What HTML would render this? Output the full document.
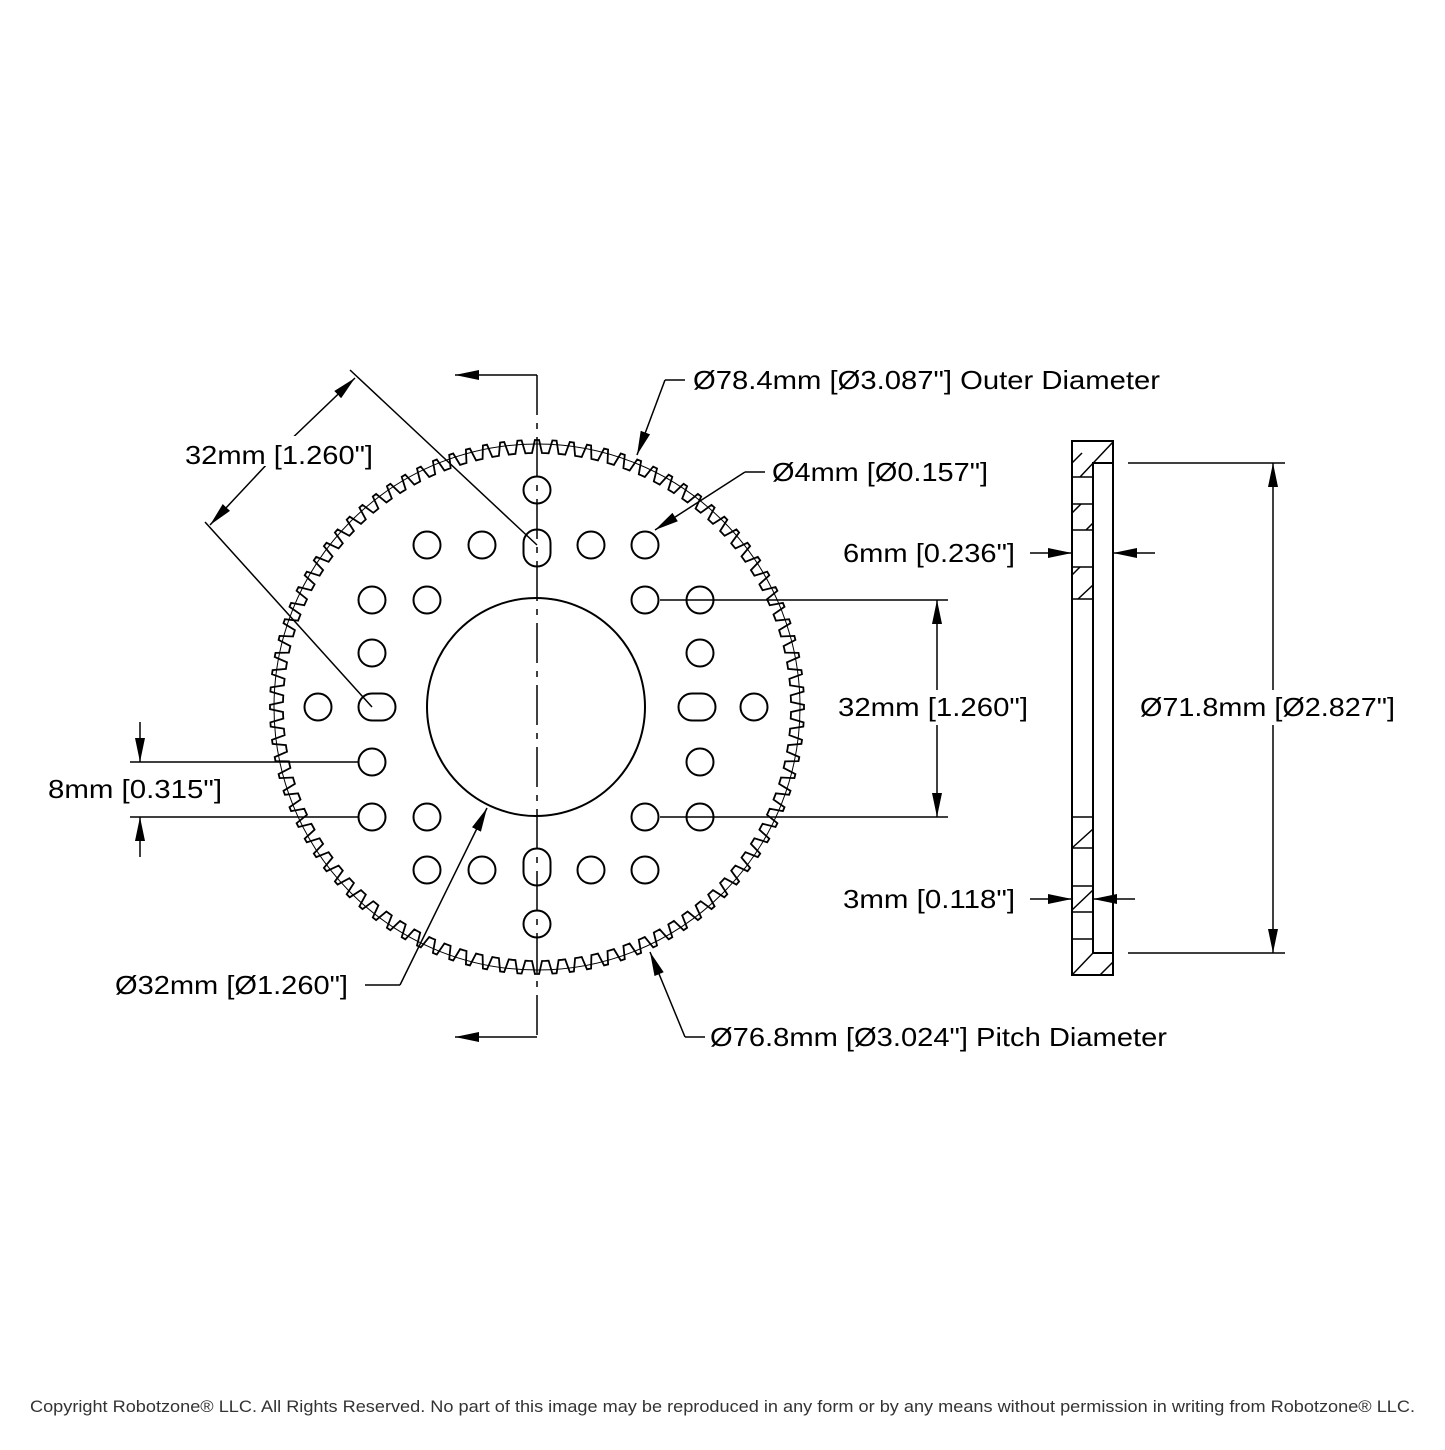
<!DOCTYPE html>
<html><head><meta charset="utf-8"><style>
body{margin:0;background:#fff}
svg text{font-family:"Liberation Sans",sans-serif;font-size:26px;fill:#000}
</style></head><body>
<svg id="s" width="1445" height="1445" viewBox="0 0 1445 1445" xmlns="http://www.w3.org/2000/svg">
<defs>
<marker id="a" viewBox="0 0 24 10" refX="24" refY="5" markerWidth="24" markerHeight="10" markerUnits="userSpaceOnUse" orient="auto"><path d="M0,0 L24,5 L0,10 Z" fill="#000"/></marker>
</defs>
<g fill="none" stroke="#000" stroke-width="2">
<path id="gear" stroke-width="1.8"/>
<circle cx="537" cy="707" r="263" stroke-width="1"/>
<circle cx="536" cy="707" r="109"/>
<g id="holes"></g>
<line x1="537" y1="375" x2="537" y2="1037" stroke-dasharray="40,8,6,8" stroke-width="1.5"/>
<line x1="537" y1="375" x2="455" y2="375" marker-end="url(#a)" stroke-width="1.5"/>
<line x1="537" y1="1037" x2="455" y2="1037" marker-end="url(#a)" stroke-width="1.5"/>
</g>
<g fill="none" stroke="#000" stroke-width="1.5">
<line x1="372" y1="707" x2="205" y2="522"/>
<line x1="537" y1="545" x2="350" y2="370"/>
<line x1="283" y1="447" x2="355" y2="378" marker-end="url(#a)"/>
<line x1="283" y1="447" x2="210" y2="525" marker-end="url(#a)"/>
<line x1="685" y1="380" x2="665" y2="380"/>
<line x1="665" y1="380" x2="637" y2="455" marker-end="url(#a)"/>
<line x1="765" y1="472" x2="745" y2="472"/>
<line x1="745" y1="472" x2="655" y2="530" marker-end="url(#a)"/>
<line x1="660" y1="600" x2="948" y2="600"/>
<line x1="660" y1="817" x2="948" y2="817"/>
<line x1="937" y1="690" x2="937" y2="600" marker-end="url(#a)"/>
<line x1="937" y1="725" x2="937" y2="817" marker-end="url(#a)"/>
<line x1="130" y1="762" x2="358" y2="762"/>
<line x1="130" y1="817" x2="358" y2="817"/>
<line x1="140" y1="722" x2="140" y2="762" marker-end="url(#a)"/>
<line x1="140" y1="857" x2="140" y2="817" marker-end="url(#a)"/>
<line x1="365" y1="985" x2="400" y2="985"/>
<line x1="400" y1="985" x2="487" y2="808" marker-end="url(#a)"/>
<line x1="705" y1="1037" x2="685" y2="1037"/>
<line x1="685" y1="1037" x2="650" y2="952" marker-end="url(#a)"/>
<line x1="1030" y1="553" x2="1072" y2="553" marker-end="url(#a)"/>
<line x1="1155" y1="553" x2="1113" y2="553" marker-end="url(#a)"/>
<line x1="1030" y1="899" x2="1072" y2="899" marker-end="url(#a)"/>
<line x1="1135" y1="899" x2="1093" y2="899" marker-end="url(#a)"/>
<line x1="1128" y1="463" x2="1285" y2="463"/>
<line x1="1128" y1="953" x2="1285" y2="953"/>
<line x1="1273" y1="690" x2="1273" y2="463" marker-end="url(#a)"/>
<line x1="1273" y1="725" x2="1273" y2="953" marker-end="url(#a)"/>
</g>
<g fill="none" stroke="#000" stroke-width="2">
<rect x="1072" y="441" width="41" height="534"/>
<polyline points="1113,463 1093,463 1093,953 1113,953"/>
<g stroke-width="1.5">
<line x1="1072" y1="477" x2="1093" y2="477"/><line x1="1072" y1="504" x2="1093" y2="504"/>
<line x1="1072" y1="530" x2="1093" y2="530"/><line x1="1072" y1="567" x2="1093" y2="567"/>
<line x1="1072" y1="599" x2="1093" y2="599"/>
<line x1="1072" y1="817" x2="1093" y2="817"/><line x1="1072" y1="848" x2="1093" y2="848"/>
<line x1="1072" y1="886" x2="1093" y2="886"/><line x1="1072" y1="912" x2="1093" y2="912"/>
<line x1="1072" y1="939" x2="1093" y2="939"/>
<line x1="1072" y1="463" x2="1082" y2="453"/><line x1="1080" y1="477" x2="1113" y2="442"/>
<line x1="1072" y1="513" x2="1081" y2="504"/><line x1="1086" y1="530" x2="1093" y2="523"/>
<line x1="1072" y1="575" x2="1080" y2="567"/><line x1="1078" y1="599" x2="1093" y2="585"/>
<line x1="1072" y1="848" x2="1093" y2="829"/><line x1="1072" y1="910" x2="1093" y2="890"/>
<line x1="1072" y1="975" x2="1093" y2="953"/><line x1="1100" y1="975" x2="1113" y2="962"/>
</g>
</g>
<rect x="180" y="436" width="198" height="30" fill="#fff"/>
<rect x="830" y="692" width="205" height="30" fill="#fff"/>
<rect x="1135" y="692" width="265" height="30" fill="#fff"/>
<g lengthAdjust="spacingAndGlyphs">
<text x="185" y="464" textLength="188" lengthAdjust="spacingAndGlyphs">32mm [1.260"]</text>
<text x="693" y="389" textLength="467" lengthAdjust="spacingAndGlyphs">Ø78.4mm [Ø3.087"] Outer Diameter</text>
<text x="772" y="481" textLength="216" lengthAdjust="spacingAndGlyphs">Ø4mm [Ø0.157"]</text>
<text x="843" y="562" textLength="172" lengthAdjust="spacingAndGlyphs">6mm [0.236"]</text>
<text x="838" y="716" textLength="190" lengthAdjust="spacingAndGlyphs">32mm [1.260"]</text>
<text x="1140" y="716" textLength="255" lengthAdjust="spacingAndGlyphs">Ø71.8mm [Ø2.827"]</text>
<text x="48" y="798" textLength="174" lengthAdjust="spacingAndGlyphs">8mm [0.315"]</text>
<text x="843" y="908" textLength="172" lengthAdjust="spacingAndGlyphs">3mm [0.118"]</text>
<text x="115" y="994" textLength="233" lengthAdjust="spacingAndGlyphs">Ø32mm [Ø1.260"]</text>
<text x="710" y="1046" textLength="457" lengthAdjust="spacingAndGlyphs">Ø76.8mm [Ø3.024"] Pitch Diameter</text>
<text x="30" y="1412" textLength="1385" lengthAdjust="spacingAndGlyphs" style="font-size:17px;fill:#333">Copyright Robotzone® LLC.  All Rights Reserved. No part of this image may be reproduced in any form or by any means without permission in writing from Robotzone® LLC.</text>
</g>
</svg>
<script>
(function(){
var cx=537,cy=707,N=96,rt=267,rr=254,d="";
for(var i=0;i<N;i++){
 var a=i*2*Math.PI/N, s=2*Math.PI/N;
 var pts=[[rr,a-0.5*s],[rr,a-0.3*s],[rt,a-0.12*s],[rt,a+0.12*s],[rr,a+0.3*s]];
 pts.forEach(function(p,j){var x=cx+p[0]*Math.sin(p[1]),y=cy-p[0]*Math.cos(p[1]);d+=(i==0&&j==0?"M":"L")+x.toFixed(1)+","+y.toFixed(1);});
}
d+="Z";document.getElementById("gear").setAttribute("d",d);
var h=[[427,545],[482,545],[591,545],[645,545],[372,600],[427,600],[645,600],[700,600],[372,653],[700,653],[318,707],[754,707],[372,762],[700,762],[372,817],[427,817],[645,817],[700,817],[427,870],[482,870],[591,870],[645,870],[537,490],[537,924]];
var g=document.getElementById("holes"),ns="http://www.w3.org/2000/svg",r=13.5;
h.forEach(function(p){var c=document.createElementNS(ns,"circle");c.setAttribute("cx",p[0]);c.setAttribute("cy",p[1]);c.setAttribute("r",r);g.appendChild(c);});
function slot(x,y,v){var e=document.createElementNS(ns,"rect");if(v){e.setAttribute("x",x-r);e.setAttribute("y",y-r-5);e.setAttribute("width",2*r);e.setAttribute("height",2*r+10);}else{e.setAttribute("x",x-r-5);e.setAttribute("y",y-r);e.setAttribute("width",2*r+10);e.setAttribute("height",2*r);}e.setAttribute("rx",r);e.setAttribute("ry",r);g.appendChild(e);}
slot(537,548,1);slot(537,867,1);slot(377,707,0);slot(697,707,0);
})();
</script>
</body></html>
